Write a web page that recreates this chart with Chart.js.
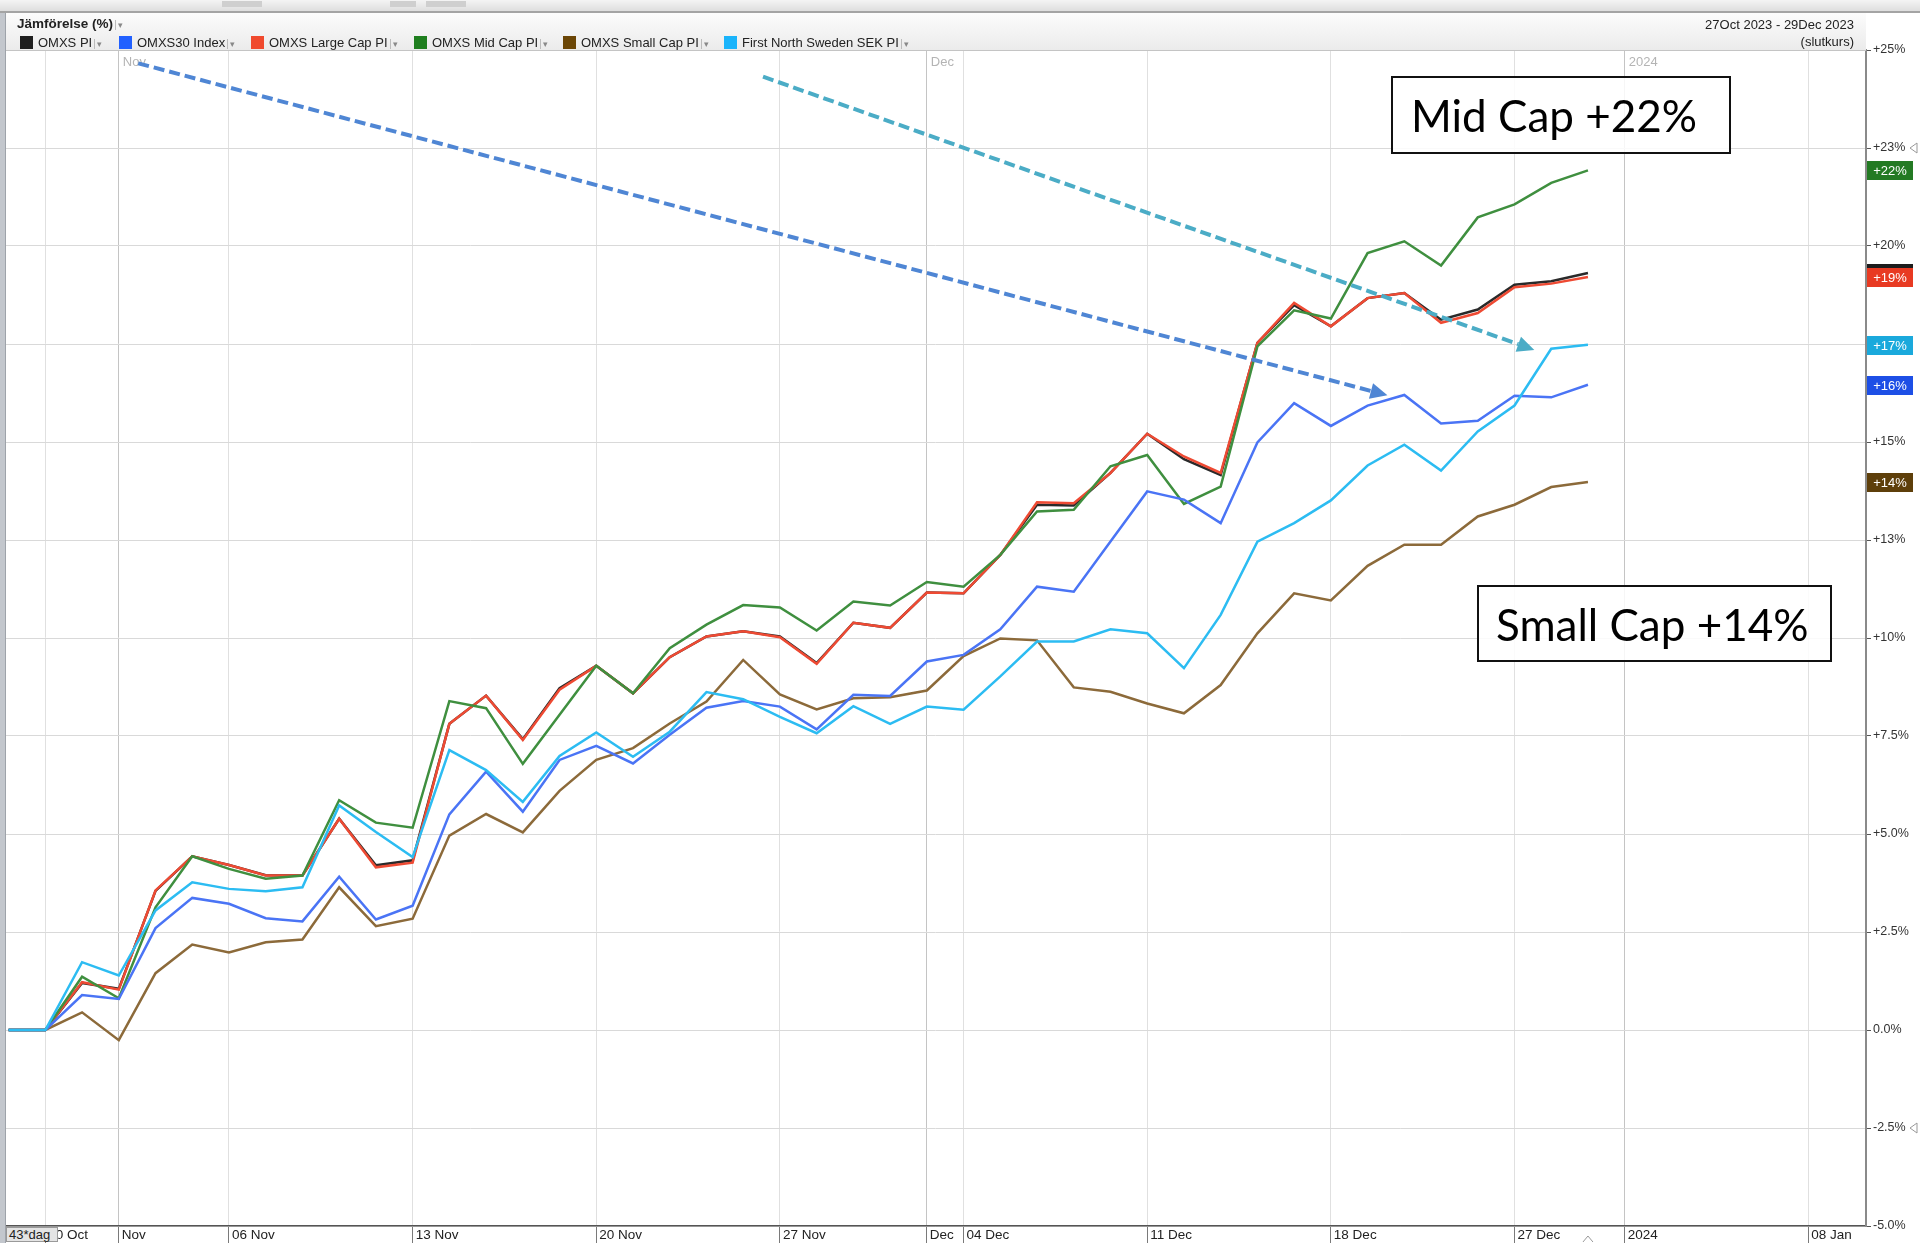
<!DOCTYPE html>
<html>
<head>
<meta charset="utf-8">
<script src="https://cdn.jsdelivr.net/npm/chart.js@4.4.0/dist/chart.umd.min.js"></script>
<style>
    html, body { margin: 0; padding: 0; width: 1920px; height: 1243px; overflow: hidden; background: #fff; }
    body { font-family: 'Liberation Sans Narrow', 'Arial Narrow', 'Liberation Sans', Arial, sans-serif; color: #222; }
    #wrap { position: relative; width: 1920px; height: 1243px; }
    #chart { position: absolute; left: 0; top: 0; }
    .chrome { position: absolute; left: 0; top: 0; width: 1920px; height: 11px; background: linear-gradient(#f4f4f4, #dedede); border-bottom: 2px solid #a4a4a4; }
    .chrome span { position: absolute; top: 1px; height: 6px; background: #cfcfcf; }
    .leftbar { position: absolute; left: 0; top: 13px; width: 5px; height: 1230px; background: #c3c7cd; border-right: 1px solid #9ea3aa; }
    .header { position: absolute; left: 6px; top: 13px; width: 1860px; height: 37px; background: linear-gradient(#fcfcfc, #ebebeb); border-bottom: 1px solid #c4c4c4; }
    .title { position: absolute; left: 11px; top: 3px; font-size: 13.5px; font-weight: bold; }
    .dd { color: #888; font-size: 9px; font-weight: normal; border-left: 1px solid #bbb; padding-left: 2px; margin-left: 2px; }
    .leg { position: absolute; top: 22px; font-size: 13px; white-space: nowrap; line-height: 15px; }
    .leg i { display: inline-block; width: 13px; height: 13px; vertical-align: -2px; margin-right: 5px; }
    .range { position: absolute; right: 12px; top: 3px; font-size: 13px; text-align: right; line-height: 17px; }
    .dag { position: absolute; left: 6px; top: 1227px; width: 52px; height: 15px; background: #e4e4e4; border: 1px solid #9a9a9a; box-sizing: border-box; font-size: 13px; line-height: 14px; padding-left: 2px; }
    .note { position: absolute; background: rgba(255,255,255,0.85); border: 2px solid #111; box-sizing: border-box; display: flex; align-items: center;
            font-family: Lato, 'Open Sans', 'Liberation Sans', sans-serif; font-size: 44px; color: #000; white-space: nowrap; }
</style>
</head>
<body>
<div id="wrap">
    <canvas id="chart" width="1920" height="1243"></canvas>
    <div class="chrome"><span style="left:222px;width:40px"></span><span style="left:390px;width:26px"></span><span style="left:426px;width:40px"></span></div>
    <div class="leftbar"></div>
    <div class="header">
        <div class="title">Jämförelse (%)<span class="dd">▾</span></div>
        <div id="legend"></div>
        <div class="range">27Oct 2023 - 29Dec 2023<br>(slutkurs)</div>
    </div>
    <div class="dag">43*dag</div>
    <div class="note" style="left:1391px;top:76px;width:340px;height:78px;padding-left:18px;">Mid Cap +22%</div>
    <div class="note" style="left:1477px;top:585px;width:355px;height:77px;padding-left:17px;">Small Cap +14%</div>
</div>
<script>
// trading days, index 0 = 27 Oct 2023 (base)
const tradingDays = ['27 Oct', '30 Oct', '31 Oct', '01 Nov', '02 Nov', '03 Nov', '06 Nov', '07 Nov', '08 Nov', '09 Nov', '10 Nov',
    '13 Nov', '14 Nov', '15 Nov', '16 Nov', '17 Nov', '20 Nov', '21 Nov', '22 Nov', '23 Nov', '24 Nov',
    '27 Nov', '28 Nov', '29 Nov', '30 Nov', '01 Dec', '04 Dec', '05 Dec', '06 Dec', '07 Dec', '08 Dec',
    '11 Dec', '12 Dec', '13 Dec', '14 Dec', '15 Dec', '18 Dec', '19 Dec', '20 Dec', '21 Dec', '22 Dec',
    '27 Dec', '28 Dec', '29 Dec'];

const seriesNames = ['OMXS PI', 'OMXS30 Index', 'OMXS Large Cap PI', 'OMXS Mid Cap PI', 'OMXS Small Cap PI', 'First North Sweden SEK PI'];

const omxsPi = [0, 0, 1.2, 1.05, 3.55, 4.43, 4.21, 3.95, 3.94, 5.39, 4.2, 4.33, 7.81, 8.53, 7.42, 8.72, 9.29, 8.59, 9.51, 10.04, 10.17,
    10.04, 9.36, 10.39, 10.26, 11.16, 11.14, 12.12, 13.4, 13.38, 14.21, 15.21, 14.56, 14.16, 17.53, 18.49, 17.95, 18.67, 18.8, 18.12, 18.38,
    19.01, 19.1, 19.31];
const omxs30 = [0, 0, 0.89, 0.79, 2.6, 3.37, 3.22, 2.85, 2.77, 3.91, 2.82, 3.17, 5.5, 6.59, 5.57, 6.89, 7.25, 6.8, 7.53, 8.22, 8.39,
    8.25, 7.67, 8.55, 8.52, 9.4, 9.57, 10.22, 11.31, 11.18, 12.46, 13.74, 13.53, 12.93, 14.99, 15.99, 15.41, 15.93, 16.2, 15.47, 15.54,
    16.18, 16.14, 16.46];
const largeCap = [0, 0, 1.22, 1.03, 3.56, 4.43, 4.21, 3.94, 3.94, 5.39, 4.15, 4.27, 7.81, 8.53, 7.4, 8.68, 9.29, 8.59, 9.51, 10.04, 10.17,
    10.02, 9.34, 10.39, 10.26, 11.16, 11.14, 12.12, 13.46, 13.44, 14.21, 15.21, 14.63, 14.21, 17.53, 18.55, 17.95, 18.67, 18.8, 18.04, 18.29,
    18.95, 19.04, 19.21];
const midCap = [0, 0, 1.36, 0.81, 3.13, 4.43, 4.11, 3.86, 3.94, 5.86, 5.29, 5.16, 8.39, 8.21, 6.79, 8.04, 9.29, 8.59, 9.74, 10.34, 10.84,
    10.78, 10.19, 10.93, 10.83, 11.43, 11.31, 12.12, 13.23, 13.27, 14.38, 14.67, 13.42, 13.86, 17.44, 18.36, 18.15, 19.82, 20.12, 19.5, 20.73,
    21.06, 21.61, 21.93];
const smallCap = [0, 0, 0.45, -0.26, 1.45, 2.18, 1.98, 2.24, 2.31, 3.64, 2.65, 2.84, 4.96, 5.51, 5.04, 6.1, 6.89, 7.19, 7.82, 8.38, 9.44,
    8.56, 8.18, 8.46, 8.49, 8.66, 9.54, 9.99, 9.94, 8.74, 8.63, 8.33, 8.08, 8.8, 10.12, 11.14, 10.96, 11.84, 12.38, 12.38, 13.1,
    13.4, 13.85, 13.98];
const firstNorth = [0, 0, 1.73, 1.39, 3.05, 3.77, 3.6, 3.54, 3.64, 5.73, 5.05, 4.41, 7.14, 6.63, 5.82, 6.99, 7.59, 6.97, 7.61, 8.62, 8.44,
    7.99, 7.57, 8.26, 7.81, 8.25, 8.17, 9.02, 9.91, 9.91, 10.22, 10.12, 9.23, 10.59, 12.46, 12.93, 13.51, 14.4, 14.93, 14.27, 15.27,
    15.93, 17.38, 17.48];

// x axis ticks (trading-day index, weekdays continue past 29 Dec)
const xTickPos = [1, 3, 6, 11, 16, 21, 25, 26, 31, 36, 41, 44, 49];
const xTickLabels = ['30 Oct', 'Nov', '06 Nov', '13 Nov', '20 Nov', '27 Nov', 'Dec', '04 Dec', '11 Dec', '18 Dec', '27 Dec', '2024', '08 Jan'];
const monthTicks = [3, 25, 44];
const monthLabels = ['Nov', 'Dec', '2024'];

const yTickValues = [-5, -2.5, 0, 2.5, 5, 7.5, 10, 12.5, 15, 17.5, 20, 22.5, 25];
const yTickLabels = ['-5.0%', '-2.5%', '0.0%', '+2.5%', '+5.0%', '+7.5%', '+10%', '+13%', '+15%', '+18%', '+20%', '+23%', '+25%'];

const lineColors = ['#2a2a2a', '#4a74f5', '#ee4a33', '#3f8f3f', '#8c6a3a', '#2cbcf2'];
const badgeColors = ['#1c1c1c', '#1d4fe6', '#e83a22', '#237a23', '#5e3f0a', '#1aa9dc'];
const swatchColors = ['#1e1e1e', '#2160ff', '#f04a2e', '#1f7f1f', '#6b4606', '#1ab4fb'];
const drawOrder = [6, 2, 5, 4, 3, 1];

// hand drawn arrows, in axis units [day index, %]
const arrows = [
    { from: [3.53, 24.66], to: [37.54, 16.19], color: '#4f86d4' },
    { from: [20.54, 24.32], to: [41.54, 17.35], color: '#4bacc6' }
];

const allSeries = [omxsPi, omxs30, largeCap, midCap, smallCap, firstNorth];
const legendLeft = [14, 113, 245, 408, 557, 718];

document.getElementById('legend').innerHTML = seriesNames.map((n, k) =>
    '<div class="leg" style="left:' + legendLeft[k] + 'px"><i style="background:' + swatchColors[k] + '"></i>' + n + '<span class="dd">▾</span></div>'
).join('');

const decor = {
    id: 'decor',
    afterDraw(chart) {
        const ctx = chart.ctx;
        const a = chart.chartArea;
        const x = chart.scales.x, y = chart.scales.y;
        ctx.save();

        // month names at the top of the plot
        ctx.font = '13px "Liberation Sans Narrow", "Liberation Sans", Arial';
        ctx.fillStyle = '#b4b4b4';
        ctx.textBaseline = 'top';
        ctx.textAlign = 'left';
        monthTicks.forEach((m, k) => ctx.fillText(monthLabels[k], x.getPixelForValue(m) + 4, a.top + 6));

        // dashed arrows
        arrows.forEach(ar => {
            const x0 = x.getPixelForValue(ar.from[0]), y0 = y.getPixelForValue(ar.from[1]);
            const x1 = x.getPixelForValue(ar.to[0]), y1 = y.getPixelForValue(ar.to[1]);
            const ang = Math.atan2(y1 - y0, x1 - x0);
            const head = 17;
            const bx = x1 - head * Math.cos(ang), by = y1 - head * Math.sin(ang);
            ctx.strokeStyle = ar.color;
            ctx.lineWidth = 4;
            ctx.setLineDash([11, 5]);
            ctx.beginPath();
            ctx.moveTo(x0, y0);
            ctx.lineTo(bx, by);
            ctx.stroke();
            ctx.setLineDash([]);
            ctx.fillStyle = ar.color;
            ctx.beginPath();
            ctx.moveTo(x1, y1);
            ctx.lineTo(bx + 8 * Math.sin(ang), by - 8 * Math.cos(ang));
            ctx.lineTo(bx - 8 * Math.sin(ang), by + 8 * Math.cos(ang));
            ctx.closePath();
            ctx.fill();
        });

        // last value badges on the right axis
        ctx.font = '13px "Liberation Sans", Arial';
        ctx.textAlign = 'center';
        ctx.textBaseline = 'middle';
        allSeries.forEach((s, k) => {
            const last = s[s.length - 1];
            const py = Math.round(y.getPixelForValue(last));
            ctx.fillStyle = badgeColors[k];
            ctx.fillRect(a.right + 1, py - 9, 46, 19);
            ctx.fillStyle = '#fff';
            ctx.fillText('+' + Math.round(last) + '%', a.right + 24, py + 1);
        });

        // small scroll markers
        ctx.strokeStyle = '#999';
        ctx.lineWidth = 1;
        [22.5, -2.5].forEach(v => {
            const py = y.getPixelForValue(v);
            ctx.beginPath();
            ctx.moveTo(1917, py - 5);
            ctx.lineTo(1910, py);
            ctx.lineTo(1917, py + 5);
            ctx.closePath();
            ctx.stroke();
        });
        const cx = x.getPixelForValue(tradingDays.length - 1);
        ctx.beginPath();
        ctx.moveTo(cx - 5, 1242);
        ctx.lineTo(cx, 1236);
        ctx.lineTo(cx + 5, 1242);
        ctx.stroke();
        ctx.restore();
    }
};

const ctx = document.getElementById('chart').getContext('2d');
new Chart(ctx, {
    type: 'line',
    data: {
        datasets: allSeries.map((s, k) => ({
            label: seriesNames[k],
            data: s.map((v, i) => ({ x: i, y: v })),
            borderColor: lineColors[k],
            borderWidth: 2.5,
            pointRadius: 0,
            tension: 0,
            fill: false,
            order: drawOrder[k]
        }))
    },
    options: {
        responsive: false,
        animation: false,
        devicePixelRatio: 1,
        layout: {
            padding: { top: 50, left: 6, right: 0, bottom: 0 }
        },
        plugins: {
            legend: { display: false },
            tooltip: { enabled: false }
        },
        scales: {
            x: {
                type: 'linear',
                min: -0.071,
                max: 50.57,
                afterFit: function(scale) { scale.height = 17; },
                afterBuildTicks: function(scale) {
                    scale.ticks = xTickPos.map(v => ({ value: v }));
                },
                grid: {
                    color: function(c) {
                        return c.tick && monthTicks.includes(c.tick.value) ? '#c4c4c4' : '#e0e0e0';
                    },
                    lineWidth: 1,
                    tickLength: 17,
                    tickColor: '#7a7a7a'
                },
                border: { color: '#555', width: 1.5 },
                ticks: {
                    autoSkip: false,
                    maxRotation: 0,
                    align: 'start',
                    labelOffset: 3,
                    padding: -16,
                    color: '#222',
                    font: { family: '"Liberation Sans Narrow", "Liberation Sans", Arial', size: 13.5 },
                    callback: function(value, index) { return xTickLabels[index]; }
                }
            },
            y: {
                position: 'right',
                min: -5,
                max: 25,
                afterFit: function(scale) { scale.width = 54; },
                afterBuildTicks: function(scale) {
                    scale.ticks = yTickValues.map(v => ({ value: v }));
                },
                grid: {
                    color: '#d9d9d9',
                    lineWidth: 1,
                    tickLength: 5,
                    tickColor: '#555'
                },
                border: { color: '#8a8a8a', width: 2 },
                ticks: {
                    padding: 2,
                    color: '#333',
                    font: { family: '"Liberation Sans", Arial', size: 12.5 },
                    callback: function(value, index) { return yTickLabels[index]; }
                }
            }
        }
    },
    plugins: [decor]
});
</script>
</body>
</html>
